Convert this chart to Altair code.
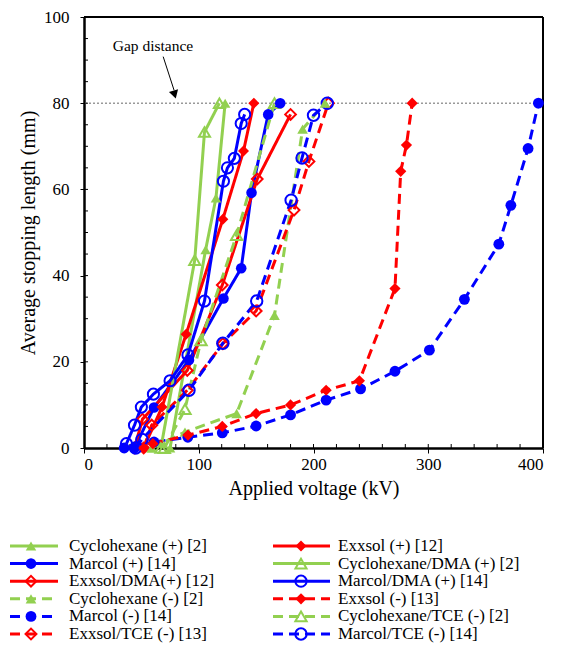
import altair as alt
import pandas as pd

# ---------------- data (kV, mm) ----------------
names = [
    "Cyclohexane (+) [2]", "Marcol (+) [14]", "Exxsol/DMA(+) [12]",
    "Cyclohexane (-) [2]", "Marcol (-) [14]", "Exxsol/TCE (-) [13]",
    "Exxsol (+) [12]", "Cyclohexane/DMA (+) [2]", "Marcol/DMA (+) [14]",
    "Exxsol (-) [13]", "Cyclohexane/TCE (-) [2]", "Marcol/TCE (-) [14]",
]

cyc_pos_x = [75, 106, 115, 123]
cyc_pos_y = [0, 46, 58, 80]
marcol_pos_x = [44, 61, 91.5, 121.5, 137, 146, 160.5, 171]
marcol_pos_y = [0, 9.4, 20.4, 34.7, 41.7, 59.2, 77.4, 80]
exx_dma_x = [44, 51, 90, 120.5, 151, 180]
exx_dma_y = [0, 6.7, 18, 37.8, 62.4, 77.4]
cyc_neg_x = [59, 88, 133, 166, 190.5, 210]
cyc_neg_y = [0, 3.7, 8, 30.8, 74, 80]
marcol_neg_x = [35, 61, 90.5, 120.5, 150, 180, 211, 241, 271, 301, 331.5, 361.5, 372, 387, 396]
marcol_neg_y = [0, 1.4, 2.5, 3.5, 5.1, 7.7, 11.1, 13.7, 17.8, 22.7, 34.5, 47.3, 56.3, 69.5, 80]
exx_tce_x = [52, 59, 90, 121, 150, 183, 196, 213]
exx_tce_y = [0, 5.3, 13.4, 24.2, 31.8, 55.2, 66.5, 80]
exx_pos_x = [52, 68, 89, 121, 139, 148]
exx_pos_y = [0, 9.5, 26.4, 53.1, 68.9, 80]
cyc_dma_x = [67, 96.5, 105, 118]
cyc_dma_y = [0, 43.6, 73.3, 80]
marcol_dma_x = [37, 44, 50, 60.5, 75, 90.6, 105, 121.5, 125, 131, 137, 140]
marcol_dma_y = [1, 5.3, 9.5, 12.5, 15.6, 21.6, 34.1, 61.9, 65, 67.2, 75.3, 77.4]
exx_neg_x = [60, 90.6, 120.5, 150, 180, 211, 240, 271, 276, 281, 286]
exx_neg_y = [1, 3, 5, 8, 10, 13.4, 15.6, 37, 64.2, 70.3, 80]
cyc_tce_x = [70, 88, 102, 133, 166]
cyc_tce_y = [0, 9, 25, 49.4, 80]
marcol_tce_x = [45, 50.5, 91.5, 121, 150.5, 180.5, 190, 200, 212]
marcol_tce_y = [0, 2, 13.4, 24.3, 34.1, 57.5, 67.3, 77.2, 80]

xs = [cyc_pos_x, marcol_pos_x, exx_dma_x, cyc_neg_x, marcol_neg_x, exx_tce_x,
      exx_pos_x, cyc_dma_x, marcol_dma_x, exx_neg_x, cyc_tce_x, marcol_tce_x]
ys = [cyc_pos_y, marcol_pos_y, exx_dma_y, cyc_neg_y, marcol_neg_y, exx_tce_y,
      exx_pos_y, cyc_dma_y, marcol_dma_y, exx_neg_y, cyc_tce_y, marcol_tce_y]

GREEN, BLUE, RED = "#92D050", "#0000FF", "#FF0000"
colors = [GREEN, BLUE, RED, GREEN, BLUE, RED, RED, GREEN, BLUE, RED, GREEN, BLUE]
SOLID, DASH = [1, 0], [10, 6]
dashes = [SOLID, SOLID, SOLID, DASH, DASH, DASH, SOLID, SOLID, SOLID, DASH, DASH, DASH]
widths = [3, 3, 2, 3, 3, 3, 3, 2, 3, 3, 3, 3]
shapes = ["triangle-up", "circle", "diamond", "triangle-up", "circle", "diamond",
          "diamond", "triangle-up", "circle", "diamond", "triangle-up", "circle"]
sizes = [110, 130, 70, 110, 130, 70, 110, 100, 90, 110, 100, 90]
filled = [True, True, False, True, True, False, True, False, False, True, False, False]

rows = []
for n, xv, yv in zip(names, xs, ys):
    for i, (a, b) in enumerate(zip(xv, yv)):
        rows.append({"series": n, "kv": a, "mm": b, "i": i})
df = pd.DataFrame(rows)

filled_names = [n for n, f in zip(names, filled) if f]
open_names = [n for n, f in zip(names, filled) if not f]

color = alt.Color("series:N", scale=alt.Scale(domain=names, range=colors), legend=None)
dash = alt.StrokeDash("series:N", scale=alt.Scale(domain=names, range=dashes), legend=None)
swidth = alt.StrokeWidth("series:N", scale=alt.Scale(domain=names, range=widths), legend=None)
shape = alt.Shape("series:N", scale=alt.Scale(domain=names, range=shapes), legend=None)
size = alt.Size("series:N", scale=alt.Scale(domain=names, range=sizes), legend=None)

W, H = 459, 431
FONT = "Liberation Serif, Liberation Sans, Arial, sans-serif"

xscale = alt.Scale(domain=[0, 400], nice=False)
yscale = alt.Scale(domain=[0, 100], nice=False)
xaxis = alt.Axis(values=[0, 100, 200, 300, 400], title="Applied voltage (kV)", grid=False,
                 tickSize=5, tickColor="black", domainColor="black", domainWidth=2.5,
                 labelFont=FONT, titleFont=FONT,
                 labelFontSize=17, titleFontSize=20, titleFontWeight="normal",
                 labelPadding=3, titlePadding=6, labelColor="black", titleColor="black")
yaxis = alt.Axis(values=[0, 20, 40, 60, 80, 100], title="Average stopping length (mm)", grid=False,
                 tickSize=4, tickColor="black", domainColor="black", domainWidth=2.5,
                 labelFont=FONT, titleFont=FONT,
                 labelFontSize=17, titleFontSize=20, titleFontWeight="normal",
                 labelPadding=11, titlePadding=5, labelColor="black", titleColor="black")

base = alt.Chart(df).encode(
    x=alt.X("kv:Q", scale=xscale, axis=xaxis),
    y=alt.Y("mm:Q", scale=yscale, axis=yaxis),
)

lines = base.mark_line(clip=False).encode(color=color, strokeDash=dash, strokeWidth=swidth,
                                          order="i:Q", detail="series:N")
pts_f = base.transform_filter(alt.FieldOneOfPredicate(field="series", oneOf=filled_names)).mark_point(
    filled=True, opacity=1).encode(color=color, shape=shape, size=size)
pts_o = base.transform_filter(alt.FieldOneOfPredicate(field="series", oneOf=open_names)).mark_point(
    filled=False, strokeWidth=2, opacity=1).encode(color=color, shape=shape, size=size)

gap = pd.DataFrame({"mm": [80]})
gap_line = alt.Chart(gap).mark_rule(color="#999999", strokeDash=[2, 2], strokeWidth=1.5).encode(
    y=alt.Y("mm:Q", scale=yscale))
ann = pd.DataFrame({"kv": [25], "mm": [93.3], "t": ["Gap distance"]})
ann_text = alt.Chart(ann).mark_text(align="left", baseline="middle", fontSize=15.5, font=FONT,
                                    color="black").encode(x=alt.X("kv:Q", scale=xscale),
                                                          y=alt.Y("mm:Q", scale=yscale), text="t:N")
arrow_df = pd.DataFrame({"kv": [69], "mm": [90.8], "kv2": [78.5], "mm2": [83]})
arrow_line = alt.Chart(arrow_df).mark_rule(color="black", strokeWidth=1).encode(
    x=alt.X("kv:Q", scale=xscale), y=alt.Y("mm:Q", scale=yscale), x2="kv2:Q", y2="mm2:Q")
head_df = pd.DataFrame({"kv": [79], "mm": [82]})
arrow_head = alt.Chart(head_df).mark_point(shape="triangle-up", angle=164, filled=True, size=90,
                                           color="black", opacity=1).encode(
    x=alt.X("kv:Q", scale=xscale), y=alt.Y("mm:Q", scale=yscale))

frame_top = alt.Chart(pd.DataFrame({"mm": [100]})).mark_rule(color="black", strokeWidth=2).encode(
    y=alt.Y("mm:Q", scale=yscale))
frame_right = alt.Chart(pd.DataFrame({"kv": [400]})).mark_rule(color="black", strokeWidth=2).encode(
    x=alt.X("kv:Q", scale=xscale))
xminor = list(range(20, 400, 20))
yminor = list(range(5, 100, 5))
xt = alt.Chart(pd.DataFrame({"kv": xminor})).mark_rule(color="black", strokeWidth=1).encode(
    x=alt.X("kv:Q", scale=xscale), y=alt.value(H), y2=alt.value(H - 4))
yt = alt.Chart(pd.DataFrame({"mm": yminor})).mark_rule(color="black", strokeWidth=1).encode(
    y=alt.Y("mm:Q", scale=yscale), x=alt.value(0), x2=alt.value(4))

main = alt.layer(gap_line, xt, yt, frame_top, frame_right, lines, pts_o, pts_f,
                 ann_text, arrow_line, arrow_head)

left_col = names[:6]
right_col = names[6:]
leg_rows = []
for r, n in enumerate(left_col):
    leg_rows.append({"series": n, "x0": 10, "x1": 58, "mx": 31, "tx": 69, "row": r})
for r, n in enumerate(right_col):
    leg_rows.append({"series": n, "x0": 273, "x1": 330, "mx": 301, "tx": 338, "row": r})
leg = pd.DataFrame(leg_rows)

ORIGIN_X, ORIGIN_Y, ROW0, ROWH = 84, 16, 545, 17.6
lxs = alt.Scale(domain=[ORIGIN_X, ORIGIN_X + W], nice=False, zero=False)
lys = alt.Scale(domain=[(ORIGIN_Y - ROW0) / ROWH, (ORIGIN_Y + H - ROW0) / ROWH],
                nice=False, zero=False, reverse=True)
lbase = alt.Chart(leg)
leg_lines = lbase.mark_rule().encode(
    x=alt.X("x0:Q", scale=lxs, axis=None), x2="x1:Q",
    y=alt.Y("row:Q", scale=lys, axis=None), color=color, strokeDash=dash, strokeWidth=swidth)
leg_pf = lbase.transform_filter(alt.FieldOneOfPredicate(field="series", oneOf=filled_names)).mark_point(
    filled=True, opacity=1).encode(x=alt.X("mx:Q", scale=lxs, axis=None),
                                   y=alt.Y("row:Q", scale=lys, axis=None),
                                   color=color, shape=shape, size=size)
leg_po = lbase.transform_filter(alt.FieldOneOfPredicate(field="series", oneOf=open_names)).mark_point(
    filled=False, strokeWidth=2, opacity=1).encode(x=alt.X("mx:Q", scale=lxs, axis=None),
                                                   y=alt.Y("row:Q", scale=lys, axis=None),
                                                   color=color, shape=shape, size=size)
leg_text = lbase.mark_text(align="left", baseline="middle", fontSize=17, font=FONT,
                           color="black").encode(x=alt.X("tx:Q", scale=lxs, axis=None),
                                                 y=alt.Y("row:Q", scale=lys, axis=None),
                                                 text="series:N")
legend = alt.layer(leg_lines, leg_po, leg_pf, leg_text)

chart = alt.layer(main, legend).resolve_scale(x="independent", y="independent").properties(
    width=W, height=H,
    padding={"left": 0, "top": 0, "right": 0, "bottom": 0}
).configure(font=FONT).configure_view(stroke=None)

chart.save("out.html", embed_options={"renderer": "svg", "actions": False})
